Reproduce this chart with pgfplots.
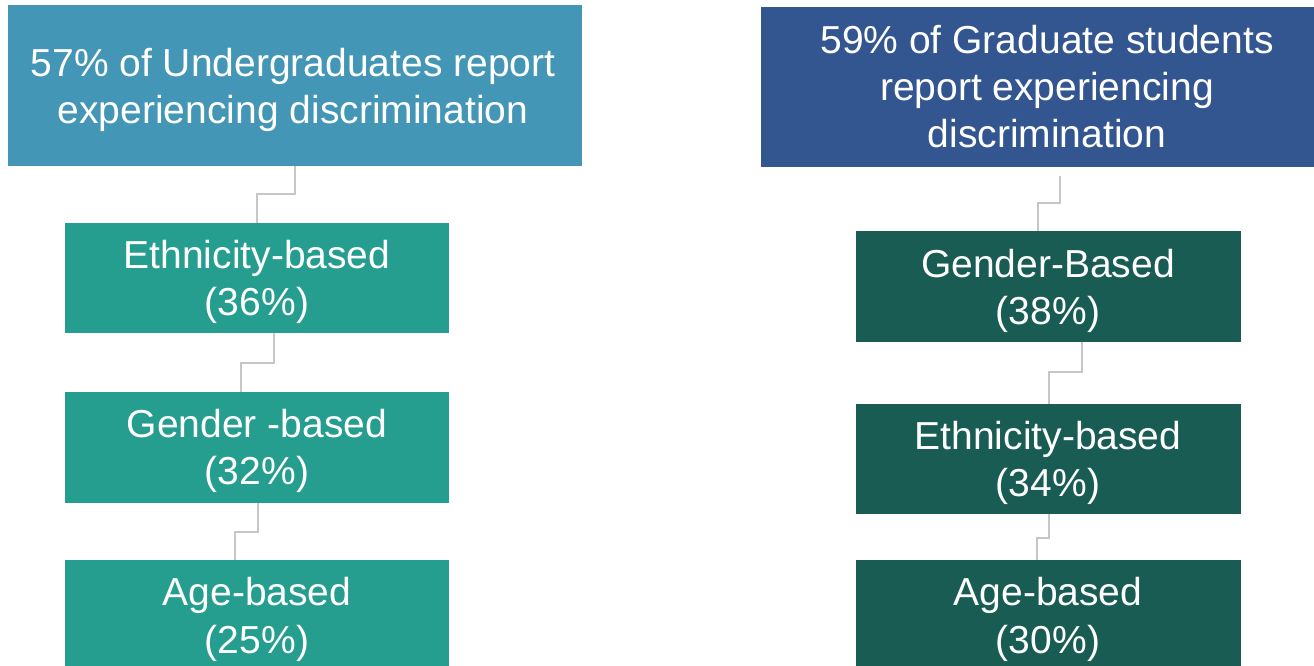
\documentclass[border=0pt]{standalone}
\usepackage{fontspec}
\setmainfont{Liberation Sans}
\usepackage{pgfplots}
\pgfplotsset{compat=1.18}
\definecolor{ugtop}{HTML}{4396B5}
\definecolor{uggreen}{HTML}{269E8F}
\definecolor{grtop}{HTML}{335691}
\definecolor{grgreen}{HTML}{185C53}
\definecolor{conn}{HTML}{C6C6C6}
\newcommand\bigfont{\fontsize{39}{47}\selectfont}
\begin{document}
\begin{tikzpicture}[lab/.style={text=white, font=\bigfont, anchor=base, inner sep=0pt}]
\begin{axis}[
  width=1314pt, height=665pt, scale only axis,
  xmin=0, xmax=1314, ymin=0, ymax=665, y dir=reverse,
  hide axis, clip=true,
]
% boxes: undergraduates
\addplot[fill=ugtop, draw=none] coordinates {(8,5) (582,5) (582,166) (8,166)} -- cycle;
\addplot[fill=uggreen, draw=none] coordinates {(65,223) (449,223) (449,333) (65,333)} -- cycle;
\addplot[fill=uggreen, draw=none] coordinates {(65,392) (449,392) (449,503) (65,503)} -- cycle;
\addplot[fill=uggreen, draw=none] coordinates {(65,560) (449,560) (449,680) (65,680)} -- cycle;
% boxes: graduates
\addplot[fill=grtop, draw=none] coordinates {(761,7) (1330,7) (1330,167) (761,167)} -- cycle;
\addplot[fill=grgreen, draw=none] coordinates {(856,231) (1241,231) (1241,342) (856,342)} -- cycle;
\addplot[fill=grgreen, draw=none] coordinates {(856,404) (1241,404) (1241,514) (856,514)} -- cycle;
\addplot[fill=grgreen, draw=none] coordinates {(856,560) (1241,560) (1241,680) (856,680)} -- cycle;
% connectors
\addplot[conn, line width=2pt] coordinates {(295,166) (295,194) (257,194) (257,223)};
\addplot[conn, line width=2pt] coordinates {(273.5,333) (273.5,363) (241,363) (241,392)};
\addplot[conn, line width=2pt] coordinates {(257.5,503) (257.5,532) (234.5,532) (234.5,560)};
\addplot[conn, line width=2pt] coordinates {(1060,176) (1060,203) (1038,203) (1038,231)};
\addplot[conn, line width=2pt] coordinates {(1082,342) (1082,372) (1049,372) (1049,404)};
\addplot[conn, line width=2pt] coordinates {(1049,514) (1049,538) (1037,538) (1037,560)};
% texts left
\node[lab] at (axis cs:293,76) {57\% of Undergraduates report};
\node[lab] at (axis cs:293,123) {experiencing discrimination};
\node[lab] at (axis cs:257,268) {Ethnicity-based};
\node[lab] at (axis cs:257,315) {(36\%)};
\node[lab] at (axis cs:257,437) {Gender -based};
\node[lab] at (axis cs:257,484) {(32\%)};
\node[lab] at (axis cs:257,605) {Age-based};
\node[lab] at (axis cs:257,653) {(25\%)};
% texts right
\node[lab] at (axis cs:1047,53) {59\% of Graduate students};
\node[lab] at (axis cs:1047,100) {report experiencing};
\node[lab] at (axis cs:1047,147) {discrimination};
\node[lab] at (axis cs:1048,277) {Gender-Based};
\node[lab] at (axis cs:1048,324) {(38\%)};
\node[lab] at (axis cs:1048,449) {Ethnicity-based};
\node[lab] at (axis cs:1048,496) {(34\%)};
\node[lab] at (axis cs:1048,605) {Age-based};
\node[lab] at (axis cs:1048,653) {(30\%)};
\end{axis}
\path[use as bounding box] (current axis.south west) rectangle (current axis.north east);
\end{tikzpicture}
\end{document}
